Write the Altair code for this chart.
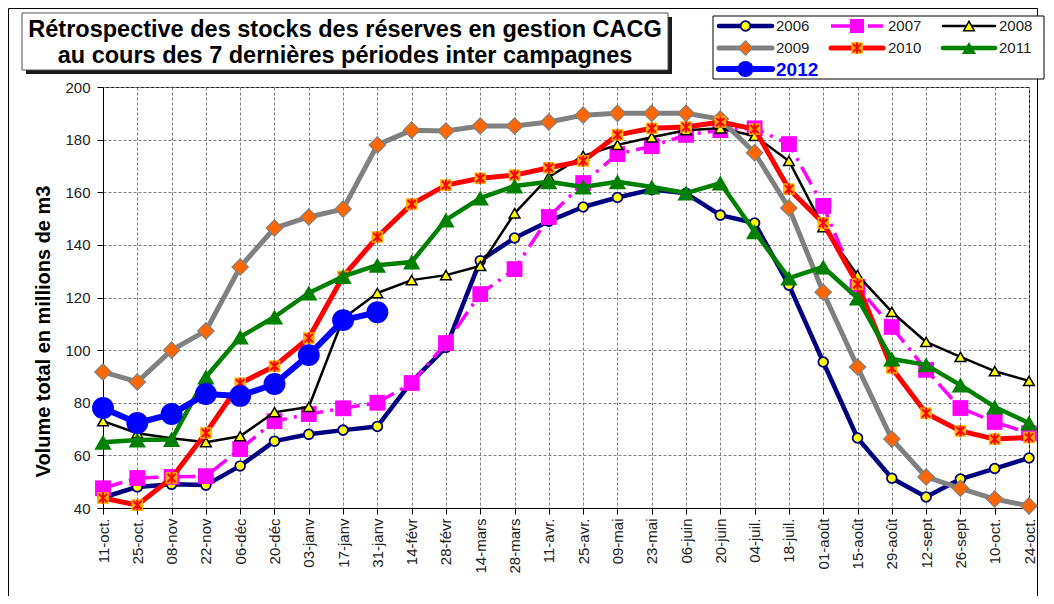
import altair as alt
import pandas as pd

dates = ["11-oct.", "25-oct.", "08-nov", "22-nov", "06-déc", "20-déc", "03-janv", "17-janv",
         "31-janv", "14-févr", "28-févr", "14-mars", "28-mars", "11-avr.", "25-avr.", "09-mai",
         "23-mai", "06-juin", "20-juin", "04-juil.", "18-juil.", "01-août", "15-août", "29-août",
         "12-sept", "26-sept", "10-oct.", "24-oct."]

v2006 = [44, 48, 49, 48.7, 56, 65.4, 68, 69.6, 71, 88, 101, 134, 142.6, 149, 154.4, 158, 161,
         159.6, 151.3, 148.3, 124.7, 95.5, 66.6, 51.3, 44.2, 51, 55, 59]
v2007 = [47.5, 51.4, 51.8, 52.1, 62.4, 73, 75.7, 77.9, 80, 87.5, 102.7, 121.3, 130.8, 150.6,
         163.5, 174.5, 177.5, 181.8, 183.6, 184.3, 178.3, 154.8, 124, 108.8, 92.5, 78, 72.7, 68.4]
v2008 = [73, 68.4, 66.5, 65, 67.3, 76.4, 78.4, 112, 121.7, 126.6, 128.5, 132, 152, 165.8, 173.8,
         178, 180.9, 183.6, 184.3, 181.4, 171.9, 146.8, 128.5, 114.5, 103.1, 97.4, 92, 88.3]
v2009 = [91.7, 87.9, 100, 107.3, 131.6, 146.4, 150.6, 153.6, 178, 183.6, 183.3, 185.2, 185.2,
         186.7, 189.3, 190, 190, 190, 187.8, 175, 154, 122, 93.6, 66.2, 51.8, 47.5, 43.4, 40.8]
v2010 = [43.8, 41.1, 51.4, 68.5, 87.4, 93.9, 104.6, 128, 143, 155.5, 162.7, 165.3, 166.5, 169.3,
         171.9, 181.8, 184.3, 184.8, 186.7, 184, 161.2, 148.3, 125.1, 93.2, 76, 69.3, 66.2, 66.8]
v2011 = [65, 65.8, 66, 89.8, 105, 112.6, 121.7, 128, 132.3, 133.5, 149.5, 157.8, 162.4, 164, 162,
         164, 162, 159.7, 163.5, 145, 127.4, 131.6, 119.8, 96.6, 94.4, 86.7, 78.4, 72.3]
v2012 = [78, 72.3, 75.7, 83.3, 82.6, 87.1, 98.1, 111.4, 114.4]

years = ["2006", "2007", "2008", "2009", "2010", "2011", "2012"]
series = dict(zip(years, [v2006, v2007, v2008, v2009, v2010, v2011, v2012]))

title_lines = ["Rétrospective des stocks des réserves en gestion CACG",
               "au cours des  7 dernières périodes inter campagnes"]
y_title = "Volume total en millions de m3"
y_ticks = [40, 60, 80, 100, 120, 140, 160, 180, 200]

rows = []
for yr in years:
    for d, v in zip(dates, series[yr]):
        rows.append({"date": d, "year": yr, "value": v})
df = pd.DataFrame(rows)

FONT = "Liberation Sans"
XPATH = "M-0.75,-0.75L0.75,0.75M-0.75,0.75L0.75,-0.75M0,-1L0,1"

W, H = 926, 421

xenc = alt.X("date:O", sort=dates,
             scale=alt.Scale(type="point", padding=0, domain=dates),
             axis=alt.Axis(title=None, labelAngle=270, grid=True, gridDash=[3, 2],
                           gridColor="#7f7f7f", gridWidth=1, tickSize=6, labelPadding=4,
                           labelFontSize=15, labelColor="#222222", labelFont=FONT,
                           domainColor="black", tickColor="black", labelOverlap=False))
yenc = alt.Y("value:Q", scale=alt.Scale(domain=[40, 200], nice=False, zero=False),
             axis=alt.Axis(values=y_ticks, title=y_title, grid=True, gridDash=[3, 2],
                           gridColor="#7f7f7f", gridWidth=1, tickSize=6, labelPadding=7,
                           labelFontSize=15, labelColor="#222222", labelFont=FONT,
                           domainColor="black", tickColor="black",
                           titleFont=FONT, titleFontSize=20, titleFontWeight="bold",
                           titleColor="black", titleX=-60, titleY=244, titleAngle=270,
                           titleAlign="center", titleBaseline="middle"))

styles = {
    "2006": dict(color="#000080", width=4.5, dash=None,
                 marks=[dict(shape="circle", size=95, fill="#FFFF00", stroke="#000080", sw=1.8)]),
    "2007": dict(color="#FF00FF", width=3.5, dash=[20, 7, 3, 7],
                 marks=[dict(shape="square", size=250, fill="#FF00FF", stroke=None, sw=0)]),
    "2008": dict(color="#000000", width=2.5, dash=None,
                 marks=[dict(shape="triangle-up", size=115, fill="#FFFF00", stroke="#000000", sw=1.5)]),
    "2009": dict(color="#808080", width=5, dash=None,
                 marks=[dict(shape="diamond", size=270, fill="#FF6600", stroke="#808080", sw=1.2)]),
    "2010": dict(color="#FF0000", width=5, dash=None,
                 marks=[dict(shape="square", size=135, fill="#FFB000", stroke=None, sw=0),
                        dict(shape=XPATH, size=120, fill=None, stroke="#FF0000", sw=2)]),
    "2011": dict(color="#008000", width=4.5, dash=None,
                 marks=[dict(shape="triangle-up", size=300, fill="#008000", stroke=None, sw=0)]),
    "2012": dict(color="#0000FF", width=6, dash=None,
                 marks=[dict(shape="circle", size=480, fill="#0000FF", stroke=None, sw=0)]),
}


def point_kwargs(m):
    kw = dict(shape=m["shape"], size=m["size"], opacity=1)
    if m["fill"] is None:
        kw.update(filled=False)
    else:
        kw.update(filled=True, fill=m["fill"])
    if m["stroke"] is not None:
        kw.update(stroke=m["stroke"], strokeWidth=m["sw"], strokeOpacity=1)
    else:
        kw.update(strokeWidth=0)
    return kw


one = pd.DataFrame({"a": [0]})
layers = []

# outer frame (no fill so axes stay visible)
layers.append(alt.Chart(one).mark_rect(filled=False, stroke="black", strokeWidth=1).encode(
    x=alt.value(-94.5), x2=alt.value(934.5), y=alt.value(-78.5), y2=alt.value(560)))

# title box with shadow
layers.append(alt.Chart(one).mark_rect(fill="#1a1a1a").encode(
    x=alt.value(-77), x2=alt.value(569), y=alt.value(-70), y2=alt.value(-13)))
layers.append(alt.Chart(one).mark_rect(fill="white", stroke="#555555", strokeWidth=1).encode(
    x=alt.value(-81), x2=alt.value(565), y=alt.value(-74), y2=alt.value(-17)))
for txt, yy in zip(title_lines, [-50, -24]):
    layers.append(alt.Chart(one).mark_text(text=txt, font=FONT, fontSize=23.5, fontWeight="bold",
                                           color="black", align="center", baseline="alphabetic").encode(
        x=alt.value(242), y=alt.value(yy)))

# legend box
layers.append(alt.Chart(one).mark_rect(fill="white", stroke="black", strokeWidth=1).encode(
    x=alt.value(610), x2=alt.value(941), y=alt.value(-71), y2=alt.value(-8)))

leg_cols = [(616, 669, 673), (728, 780, 785), (840, 892, 896)]
leg_rows = [-61, -39, -18]
for i, yr in enumerate(years):
    st = styles[yr]
    x0, x1, xl = leg_cols[i % 3]
    yy = leg_rows[i // 3]
    rule_kw = dict(color=st["color"], strokeWidth=st["width"], strokeCap="round")
    if st["dash"]:
        rule_kw.update(strokeDash=st["dash"], strokeCap="butt")
    layers.append(alt.Chart(one).mark_rule(**rule_kw).encode(
        x=alt.value(x0), x2=alt.value(x1), y=alt.value(yy)))
    xm = (x0 + x1) / 2
    for m in st["marks"]:
        mm = dict(m)
        mm["size"] = min(m["size"], 200) if yr != "2012" else 260
        layers.append(alt.Chart(one).mark_point(**point_kwargs(mm)).encode(
            x=alt.value(xm), y=alt.value(yy)))
    if yr == "2012":
        layers.append(alt.Chart(one).mark_text(text=yr, font=FONT, fontSize=19, fontWeight="bold",
                                               color="#0000FF", align="left", baseline="middle").encode(
            x=alt.value(xl), y=alt.value(yy + 1)))
    else:
        layers.append(alt.Chart(one).mark_text(text=yr, font=FONT, fontSize=15, color="#222222",
                                               align="left", baseline="middle").encode(
            x=alt.value(xl), y=alt.value(yy)))

# data series
for yr in years:
    st = styles[yr]
    base = alt.Chart(df).transform_filter(alt.datum.year == yr)
    line_kw = dict(color=st["color"], strokeWidth=st["width"], strokeJoin="round", strokeCap="round")
    if st["dash"]:
        line_kw.update(strokeDash=st["dash"], strokeCap="butt")
    layers.append(base.mark_line(**line_kw).encode(x=xenc, y=yenc))
    for m in st["marks"]:
        layers.append(base.mark_point(**point_kwargs(m)).encode(x=xenc, y=yenc))

chart = alt.layer(*layers).properties(
    width=W, height=H,
    autosize=alt.AutoSizeParams(type="none"),
    padding={"left": 95, "top": 79, "right": 17, "bottom": 88},
    background="white",
).configure_view(stroke="black", strokeWidth=1, fill="white")

chart.save("out.html", embed_options={"renderer": "svg", "actions": False})
